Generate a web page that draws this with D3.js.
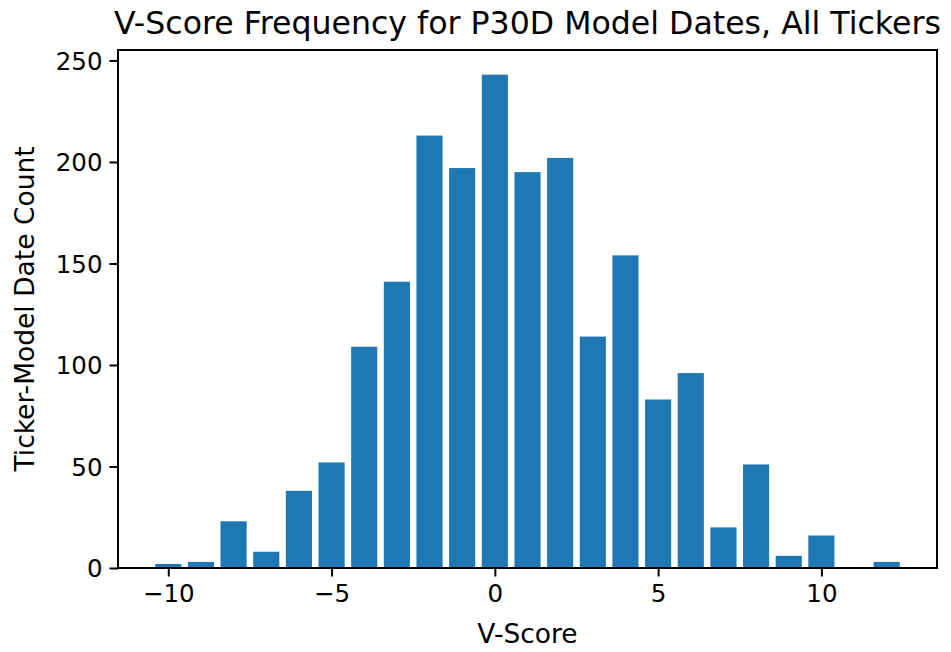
<!DOCTYPE html>
<html>
<head>
<meta charset="utf-8">
<script src="https://cdn.jsdelivr.net/npm/d3@7"></script>
<style>
  body { margin: 0; background: #fff; }
  svg { display: block; font-family: 'DejaVu Sans', sans-serif; }
</style>
</head>
<body>
<svg id="chart" width="951" height="652"></svg>
<script>
'use strict';

// v-score bins and how many ticker-model dates fell in each
var scores = [-10, -9, -8, -7, -6, -5, -4, -3, -2, -1, 0, 1, 2, 3, 4, 5, 6, 7, 8, 9, 10, 11, 12];
var counts = [2, 3, 23, 8, 38, 52, 109, 141, 213, 197, 243, 195, 202, 114, 154, 83, 96, 20, 51, 6, 16, 0, 3];
var xTicks = [-10, -5, 0, 5, 10];
var yTicks = [0, 50, 100, 150, 200, 250];

var svg = d3.select('#chart');
var margin = {top: 50, right: 14, bottom: 84, left: 118};
var width = +svg.attr('width') - margin.left - margin.right;
var height = +svg.attr('height') - margin.top - margin.bottom;
var barWidth = 0.8;

var g = svg.append('g').attr('transform', 'translate(' + margin.left + ',' + margin.top + ')');

// matplotlib style 5% margins around the bars
var lo = d3.min(scores) - barWidth / 2;
var hi = d3.max(scores) + barWidth / 2;
var pad = (hi - lo) * 0.05;

var x = d3.scaleLinear()
	.domain([lo - pad, hi + pad])
	.range([0, width]);

var y = d3.scaleLinear()
	.domain([0, d3.max(counts) * 1.05])
	.range([height, 0]);

g.selectAll('rect.bar')
	.data(scores)
	.enter().append('rect')
		.attr('class', 'bar')
		.attr('x', function(d) { return x(d - barWidth / 2); })
		.attr('width', function(d) { return x(d + barWidth / 2) - x(d - barWidth / 2); })
		.attr('y', function(d, i) { return y(counts[i]); })
		.attr('height', function(d, i) { return height - y(counts[i]); })
		.attr('fill', '#1f77b4');

var xAxis = g.append('g')
	.attr('transform', 'translate(0,' + height + ')')
	.call(d3.axisBottom(x).tickValues(xTicks).tickSize(8.5).tickPadding(7).tickFormat(d3.format('d')));

var yAxis = g.append('g')
	.call(d3.axisLeft(y).tickValues(yTicks).tickSize(8.5).tickPadding(7));

[xAxis, yAxis].forEach(function(a) {
	a.select('.domain').remove();
	a.selectAll('line').attr('stroke', '#000').attr('stroke-width', 2);
	a.selectAll('text')
		.attr('fill', '#000')
		.style('font-size', '24.5px')
		.style('font-family', 'DejaVu Sans');
});
xAxis.selectAll('text').attr('dy', '0.76em');
yAxis.selectAll('text').attr('dy', '0.36em');

// frame
g.append('rect')
	.attr('width', width)
	.attr('height', height)
	.attr('fill', 'none')
	.attr('stroke', '#000')
	.attr('stroke-width', 2);

svg.append('text')
	.attr('x', margin.left + width / 2)
	.attr('y', 34)
	.attr('text-anchor', 'middle')
	.style('font-size', '31.6px')
	.text('V-Score Frequency for P30D Model Dates, All Tickers');

svg.append('text')
	.attr('x', margin.left + width / 2)
	.attr('y', 643)
	.attr('text-anchor', 'middle')
	.style('font-size', '26.5px')
	.text('V-Score');

svg.append('text')
	.attr('transform', 'translate(34,' + (margin.top + height / 2) + ') rotate(-90)')
	.attr('text-anchor', 'middle')
	.style('font-size', '26.5px')
	.text('Ticker-Model Date Count');
</script>
</body>
</html>
